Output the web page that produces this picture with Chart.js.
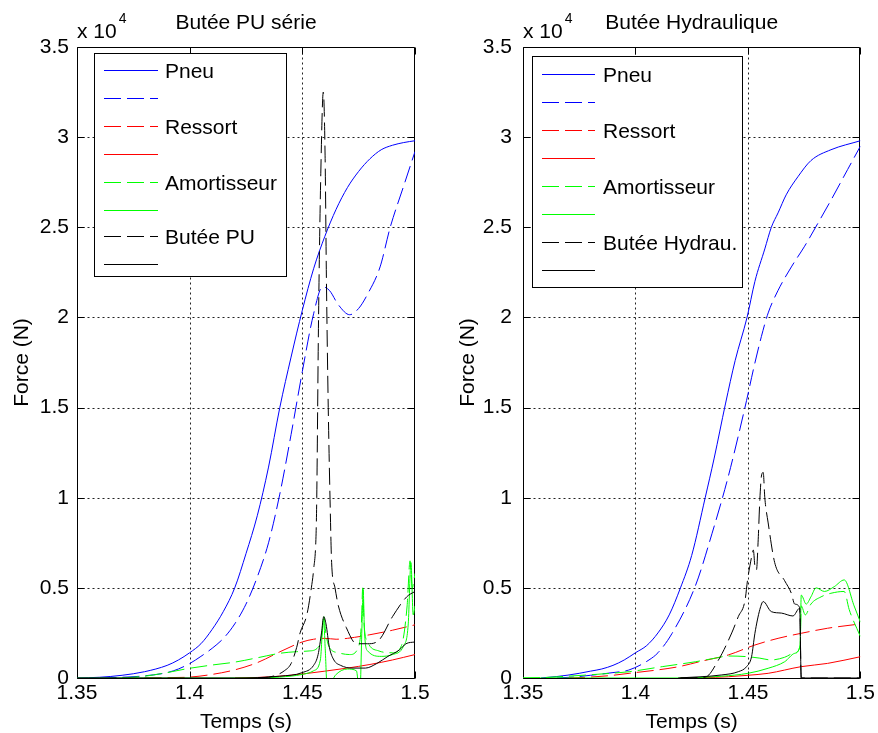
<!DOCTYPE html>
<html><head><meta charset="utf-8">
<script src="https://cdn.jsdelivr.net/npm/chart.js@4.4.0/dist/chart.umd.min.js"></script>
<style>
html,body{margin:0;padding:0;background:#fff;width:878px;height:733px;overflow:hidden}
#wrap{position:relative;width:878px;height:733px}
canvas{position:absolute;top:0}
#c1{left:0}#c2{left:440px}
</style></head><body>
<div id="wrap"><canvas id="c1" width="440" height="733"></canvas><canvas id="c2" width="438" height="733"></canvas></div>
<script>
// ---------- tick labels & texts ----------
const xTicks = [1.35, 1.4, 1.45, 1.5];
const xTickLabels = ['1.35', '1.4', '1.45', '1.5'];
const yTicks = [0, 0.5, 1, 1.5, 2, 2.5, 3, 3.5];
const yTickLabels = ['0', '0.5', '1', '1.5', '2', '2.5', '3', '3.5'];
const xTitle = 'Temps (s)';
const yTitle = 'Force (N)';
const expLabel = ['x 10', '4'];
const titleLeft = 'Butée PU série';
const titleRight = 'Butée Hydraulique';
const legendLeft = ['Pneu', '', 'Ressort', '', 'Amortisseur', '', 'Butée PU', ''];
const legendRight = ['Pneu', '', 'Ressort', '', 'Amortisseur', '', 'Butée Hydrau.', ''];

// ---------- left plot: Butée PU série  [time (s), force (x1e4 N)] ----------
const puPneu = [[1.35,0],[1.36,0.004],[1.37,0.015],[1.38,0.035],[1.39,0.07],[1.395,0.1],[1.40,0.14],[1.405,0.19],[1.41,0.27],[1.415,0.37],[1.42,0.5],[1.425,0.69],[1.43,0.9],[1.435,1.17],[1.44,1.5],[1.445,1.78],[1.45,2.04],[1.455,2.27],[1.46,2.45],[1.465,2.6],[1.47,2.72],[1.475,2.81],[1.48,2.88],[1.485,2.93],[1.49,2.955],[1.495,2.97],[1.5,2.98]];
const puPneuD = [[1.36,0],[1.37,0.004],[1.38,0.012],[1.39,0.03],[1.395,0.05],[1.40,0.08],[1.405,0.12],[1.41,0.165],[1.415,0.22],[1.42,0.3],[1.425,0.41],[1.43,0.56],[1.435,0.75],[1.44,1.02],[1.445,1.35],[1.45,1.7],[1.455,2.02],[1.459,2.17],[1.462,2.15],[1.466,2.07],[1.471,2.015],[1.475,2.05],[1.479,2.13],[1.4845,2.28],[1.489,2.5],[1.495,2.73],[1.5,2.92]];
const puRessortD = [[1.38,0],[1.39,0.002],[1.40,0.005],[1.41,0.02],[1.42,0.045],[1.43,0.085],[1.44,0.145],[1.45,0.2],[1.455,0.215],[1.46,0.22],[1.465,0.215],[1.47,0.22],[1.48,0.24],[1.49,0.265],[1.5,0.295]];
const puRessort = [[1.42,0],[1.43,0.003],[1.44,0.01],[1.45,0.022],[1.46,0.038],[1.47,0.055],[1.48,0.075],[1.49,0.1],[1.5,0.13]];
const puAmortD = [[1.37,0],[1.38,0.01],[1.39,0.03],[1.40,0.054],[1.41,0.072],[1.42,0.088],[1.43,0.112],[1.44,0.137],[1.4475,0.146],[1.453,0.15],[1.457,0.17],[1.4588,0.25],[1.4596,0.34],[1.4604,0.25],[1.462,0.17],[1.466,0.14],[1.471,0.13],[1.4745,0.16],[1.4762,0.3],[1.4768,0.5],[1.4774,0.3],[1.479,0.2],[1.484,0.15],[1.49,0.14],[1.494,0.18],[1.4965,0.4],[1.4978,0.65],[1.4988,0.5],[1.5,0.58]];
const puAmort = [[1.35,0],[1.43,0],[1.44,0.005],[1.45,0.02],[1.455,0.04],[1.458,0.1],[1.4594,0.33],[1.4602,0.15],[1.461,-0.05],[1.465,0.02],[1.47,0.05],[1.474,0.04],[1.4755,-0.1],[1.4765,0.3],[1.477,0.49],[1.4776,0.25],[1.479,0.15],[1.485,0.12],[1.49,0.13],[1.495,0.18],[1.497,0.3],[1.4982,0.64],[1.4992,0.35],[1.5,0.4]];
const puButeeD = [[1.43,0],[1.437,0.01],[1.442,0.04],[1.445,0.08],[1.4475,0.17],[1.449,0.25],[1.452,0.35],[1.454,0.5],[1.455,0.6],[1.4561,0.8],[1.4564,1.0],[1.4572,2.0],[1.4582,2.8],[1.4593,3.25],[1.4601,2.9],[1.4607,2.2],[1.4615,1.5],[1.4623,0.99],[1.463,0.64],[1.4645,0.5],[1.466,0.4],[1.4695,0.28],[1.474,0.19],[1.479,0.19],[1.484,0.21],[1.49,0.34],[1.4963,0.45],[1.5,0.48]];
const puButee = [[1.35,0],[1.42,0],[1.43,0.002],[1.44,0.01],[1.45,0.03],[1.455,0.07],[1.457,0.13],[1.4585,0.25],[1.4595,0.34],[1.4605,0.3],[1.462,0.17],[1.464,0.1],[1.467,0.07],[1.472,0.055],[1.478,0.055],[1.483,0.08],[1.488,0.12],[1.493,0.155],[1.496,0.19],[1.5,0.2]];

// ---------- right plot: Butée Hydraulique ----------
const hyPneu = [[1.358,0],[1.365,0.008],[1.37,0.016],[1.375,0.026],[1.38,0.038],[1.385,0.05],[1.39,0.07],[1.395,0.1],[1.40,0.14],[1.405,0.18],[1.41,0.25],[1.415,0.35],[1.42,0.5],[1.425,0.68],[1.431,1.0],[1.435,1.22],[1.44,1.52],[1.4443,1.76],[1.4496,2.0],[1.4531,2.2],[1.4575,2.38],[1.4604,2.5],[1.4634,2.58],[1.467,2.68],[1.4722,2.78],[1.478,2.87],[1.4869,2.93],[1.5,2.98]];
const hyPneuD = [[1.365,0],[1.372,0.005],[1.38,0.015],[1.39,0.03],[1.397,0.044],[1.406,0.1],[1.41,0.14],[1.4163,0.248],[1.4266,0.51],[1.434,0.8],[1.4413,1.12],[1.4494,1.54],[1.4524,1.71],[1.456,1.895],[1.459,2.025],[1.4634,2.15],[1.4693,2.28],[1.4752,2.395],[1.481,2.52],[1.4869,2.65],[1.4943,2.82],[1.5,2.95]];
const hyRessortD = [[1.37,0],[1.38,0.005],[1.39,0.015],[1.3972,0.026],[1.41,0.045],[1.4193,0.063],[1.43,0.095],[1.4413,0.128],[1.4531,0.183],[1.4634,0.22],[1.4737,0.248],[1.4854,0.276],[1.5,0.30]];
const hyRessort = [[1.42,0],[1.43,0.002],[1.4413,0.007],[1.45,0.015],[1.459,0.026],[1.4737,0.063],[1.4854,0.081],[1.5,0.118]];
const hyAmortD = [[1.35,0],[1.36,0.003],[1.37,0.01],[1.38,0.018],[1.39,0.027],[1.3972,0.035],[1.4119,0.063],[1.4266,0.09],[1.4354,0.11],[1.4413,0.122],[1.45,0.118],[1.4553,0.11],[1.4604,0.1],[1.4663,0.115],[1.4708,0.14],[1.4732,0.175],[1.4737,0.4],[1.4755,0.35],[1.478,0.41],[1.4825,0.45],[1.4869,0.47],[1.4928,0.48],[1.495,0.38],[1.5,0.23]];
const hyAmort = [[1.35,0],[1.42,0],[1.4384,0.01],[1.45,0.026],[1.459,0.054],[1.4663,0.09],[1.4708,0.137],[1.4732,0.183],[1.4737,0.46],[1.4759,0.41],[1.478,0.45],[1.4803,0.5],[1.484,0.48],[1.4884,0.507],[1.4928,0.544],[1.4972,0.40],[1.5,0.31]];
const hyButeeD = [[1.42,0],[1.431,0.005],[1.4369,0.1],[1.4428,0.25],[1.4457,0.34],[1.4487,0.43],[1.4498,0.54],[1.4516,0.67],[1.4524,0.71],[1.4531,0.62],[1.4538,0.6],[1.4545,0.75],[1.4553,0.99],[1.456,1.12],[1.4568,1.14],[1.4575,1.0],[1.459,0.86],[1.4619,0.64],[1.4663,0.54],[1.4693,0.47],[1.4708,0.41],[1.473,0.39],[1.4737,0],[1.5,0]];
const hyButee = [[1.419,0],[1.4384,0.017],[1.4457,0.035],[1.4494,0.063],[1.4516,0.118],[1.4531,0.248],[1.4553,0.38],[1.4568,0.424],[1.4604,0.368],[1.4649,0.36],[1.47,0.344],[1.473,0.387],[1.4737,0],[1.5,0]];

// ---------- styles ----------
const COLORS = ['#0000ff', '#0000ff', '#ff0000', '#ff0000', '#00ff00', '#00ff00', '#000000', '#000000'];
const DASHED = [false, true, true, false, true, false, true, false];
const DASH = [17, 6];
const FONT = "'Liberation Sans', Arial, sans-serif";
const FS = 21;

function series(arrs, labels) {
  return arrs.map((a, i) => ({
    label: labels[i],
    data: a.map(p => ({x: p[0], y: p[1]})),
    borderColor: COLORS[i],
    backgroundColor: COLORS[i],
    borderWidth: 1,
    borderDash: DASHED[i] ? DASH.slice() : [],
    pointRadius: 0,
    fill: false,
    cubicInterpolationMode: 'monotone',
    order: -i
  }));
}

function makeChart(canvas, g) {
  const deco = {
    id: 'deco',
    beforeDatasetsDraw(chart) {
      const {ctx, chartArea: a, scales: {x, y}} = chart;
      const L = Math.round(a.left) + 0.5, R = Math.round(a.right) - 0.5;
      const T = Math.round(a.top) + 0.5, B = Math.round(a.bottom) + 0.5;
      ctx.save();
      ctx.lineWidth = 1;
      ctx.strokeStyle = '#222';
      ctx.setLineDash([2, 3]);
      ctx.beginPath();
      xTicks.slice(1, -1).forEach(v => { const p = Math.round(x.getPixelForValue(v)) + 0.5; ctx.moveTo(p, T); ctx.lineTo(p, B); });
      yTicks.slice(1, -1).forEach(v => { const p = Math.round(y.getPixelForValue(v)) + 0.5; ctx.moveTo(L, p); ctx.lineTo(R, p); });
      ctx.stroke();
      ctx.setLineDash([]);
      ctx.strokeStyle = '#000';
      ctx.beginPath();
      ctx.rect(L, T, R - L, B - T);
      const tl = 7;
      xTicks.forEach(v => { const p = Math.round(x.getPixelForValue(v)) + 0.5; ctx.moveTo(p, B); ctx.lineTo(p, B - tl); ctx.moveTo(p, T); ctx.lineTo(p, T + tl); });
      yTicks.forEach(v => { const p = Math.round(y.getPixelForValue(v)) + 0.5; ctx.moveTo(L, p); ctx.lineTo(L + tl, p); ctx.moveTo(R, p); ctx.lineTo(R - tl, p); });
      ctx.stroke();
      ctx.restore();
    },
    afterDraw(chart) {
      const {ctx, chartArea: a} = chart;
      ctx.save();
      const cx = (a.left + a.right) / 2;
      ctx.fillStyle = '#000';
      ctx.textAlign = 'center';
      ctx.textBaseline = 'alphabetic';
      ctx.font = FS + 'px ' + FONT;
      ctx.fillText(g.title, cx, 29);
      ctx.fillText(xTitle, cx, 728);
      // exponent
      ctx.textAlign = 'left';
      ctx.fillText(expLabel[0], a.left, 38);
      const w = ctx.measureText(expLabel[0]).width;
      ctx.font = '14px ' + FONT;
      ctx.fillText(expLabel[1], a.left + w + 2, 23);
      // y title
      ctx.font = FS + 'px ' + FONT;
      ctx.translate(a.left - 49, (a.top + a.bottom) / 2);
      ctx.rotate(-Math.PI / 2);
      ctx.textAlign = 'center';
      ctx.fillText(yTitle, 0, 0);
      ctx.setTransform(1, 0, 0, 1, 0, 0);
      // legend box
      const lg = g.legend;
      ctx.fillStyle = '#ffffff';
      ctx.fillRect(lg.x0, lg.y0, lg.x1 - lg.x0, lg.y1 - lg.y0);
      ctx.strokeStyle = '#000000';
      ctx.lineWidth = 1;
      ctx.strokeRect(lg.x0 + 0.5, lg.y0 + 0.5, lg.x1 - lg.x0, lg.y1 - lg.y0);
      for (let i = 0; i < g.labels.length; i++) {
        const yy = 2 * Math.round((lg.row0 + i * lg.step) / 2) + 0.5;
        ctx.beginPath();
        ctx.strokeStyle = COLORS[i];
        ctx.lineWidth = 1;
        ctx.setLineDash(DASHED[i] ? DASH : []);
        ctx.moveTo(lg.lx0, yy);
        ctx.lineTo(lg.lx1, yy);
        ctx.stroke();
        ctx.setLineDash([]);
        if (g.labels[i]) {
          ctx.fillStyle = '#000000';
          ctx.font = FS + 'px ' + FONT;
          ctx.textAlign = 'left';
          ctx.fillText(g.labels[i], lg.tx, yy + 7);
        }
      }
      ctx.restore();
    }
  };
  return new Chart(canvas, {
    type: 'line',
    data: {datasets: series(g.arrs, g.labels)},
    options: {
      responsive: false,
      devicePixelRatio: 1,
      animation: false,
      events: [],
      layout: {padding: {left: 0, top: 47, right: g.rightPad, bottom: 0}},
      plugins: {legend: {display: false}, tooltip: {enabled: false}, title: {display: false}, colors: {enabled: false}},
      scales: {
        x: {
          type: 'linear', min: 1.35, max: 1.5,
          afterFit: s => { s.height = 55; },
          afterBuildTicks: s => { s.ticks = xTicks.map(v => ({value: v})); },
          grid: {display: false, drawTicks: false}, border: {display: false},
          ticks: {autoSkip: false, maxRotation: 0, padding: 3, color: '#000', font: {family: FONT, size: FS},
            callback: (v, i) => xTickLabels[i]}
        },
        y: {
          type: 'linear', min: 0, max: 3.5,
          afterFit: s => { s.width = g.yWidth; },
          afterBuildTicks: s => { s.ticks = yTicks.map(v => ({value: v})); },
          grid: {display: false, drawTicks: false}, border: {display: false},
          ticks: {autoSkip: false, padding: g.yPad, color: '#000', font: {family: FONT, size: FS},
            callback: (v, i) => yTickLabels[i]}
        }
      }
    },
    plugins: [deco]
  });
}

makeChart(document.getElementById('c1'), {
  title: titleLeft, labels: legendLeft, yWidth: 77, rightPad: 25, yPad: 8,
  arrs: [puPneu, puPneuD, puRessortD, puRessort, puAmortD, puAmort, puButeeD, puButee],
  legend: {x0: 94, y0: 53, x1: 286, y1: 276, row0: 70, step: 27.8, lx0: 104, lx1: 158, tx: 165}
});
makeChart(document.getElementById('c2'), {
  title: titleRight, labels: legendRight, yWidth: 83, rightPad: 15, yPad: 11,
  arrs: [hyPneu, hyPneuD, hyRessortD, hyRessort, hyAmortD, hyAmort, hyButeeD, hyButee],
  legend: {x0: 92, y0: 56, x1: 302, y1: 287, row0: 73, step: 28, lx0: 102, lx1: 155, tx: 163}
});
</script>
</body></html>
